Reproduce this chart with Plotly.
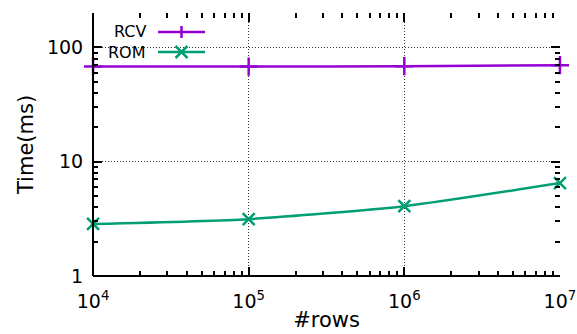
import plotly.graph_objects as go
import math

rows = [1e4, 1e5, 1e6, 1e7]
rcv_ms = [68.2, 68.0, 68.6, 70.0]
rom_ms = [2.85, 3.14, 4.08, 6.5]
series_names = ["RCV", "ROM"]
colors = ["#9400d3", "#009e73"]
x_tickvals = [1e4, 1e5, 1e6, 1e7]
x_ticktext = ["10<sup>4</sup>", "10<sup>5</sup>", "10<sup>6</sup>", "10<sup>7</sup>"]
y_tickvals = [1, 10, 100]
y_ticktext = ["1", "10", "100"]

FONT = "DejaVu Sans"
YMAX = math.log10(200)
XR = [4 - 0.0005, 7 + 0.0005]
YR = [0 - 0.0005, YMAX + 0.0005]

fig = go.Figure()
fig.add_trace(go.Scatter(
    x=rows, y=rcv_ms, name=series_names[0], mode="lines+markers",
    line=dict(color=colors[0], width=2.5, shape="spline", smoothing=0.6),
    marker=dict(symbol="cross-thin", size=13, line=dict(color=colors[0], width=2.5)),
    showlegend=False, cliponaxis=False,
))
fig.add_trace(go.Scatter(
    x=rows, y=rom_ms, name=series_names[1], mode="lines+markers",
    line=dict(color=colors[1], width=2.5, shape="spline", smoothing=0.6),
    marker=dict(symbol="x-thin", size=12, line=dict(color=colors[1], width=2.5)),
    showlegend=False, cliponaxis=False,
))

tickfont = dict(family=FONT, size=19, color="black")
grid = dict(showgrid=True, gridcolor="#333", griddash="1px,2px", gridwidth=1)
minor = dict(ticks="inside", ticklen=5, tickwidth=2, tickcolor="black", dtick="D1", showgrid=False)
TRANSPARENT = "rgba(0,0,0,0)"

fig.update_layout(
    width=577, height=334,
    margin=dict(l=93, r=17, t=13, b=58),
    paper_bgcolor="white", plot_bgcolor="white",
    font=dict(family=FONT, color="black"),
    xaxis=dict(
        type="log", range=XR, tickmode="array", tickvals=x_tickvals, ticktext=x_ticktext,
        showline=True, linecolor=TRANSPARENT, linewidth=2, mirror="ticks", automargin=False,
        ticks="inside", ticklen=9, tickwidth=2, tickcolor="black",
        tickfont=tickfont, ticklabelstandoff=7,
        zeroline=False, minor=minor, **grid,
        title=dict(text="#rows", font=dict(family=FONT, size=21, color="black"), standoff=2),
    ),
    yaxis=dict(
        type="log", range=YR, tickmode="array", tickvals=y_tickvals, ticktext=y_ticktext,
        showline=True, linecolor=TRANSPARENT, linewidth=2, mirror="ticks", automargin=False,
        ticks="inside", ticklen=9, tickwidth=2, tickcolor="black",
        tickfont=tickfont, ticklabelstandoff=4,
        zeroline=False, minor=minor, **grid,
        title=dict(text="Time(ms)", font=dict(family=FONT, size=21, color="black"), standoff=8),
    ),
)

# left and bottom border (gnuplot "set border 3")
fig.add_shape(type="line", xref="paper", yref="paper", x0=0, x1=0, y0=0, y1=1,
              line=dict(color="black", width=2), layer="above")
fig.add_shape(type="line", xref="paper", yref="paper", x0=0, x1=1, y0=0, y1=0,
              line=dict(color="black", width=2), layer="above")

# gnuplot-style key: opaque box, text left of the sample
PW, PH = 467, 263
fig.add_shape(type="rect", xref="paper", yref="paper", x0=12 / PW, x1=120 / PW, y0=1 - 57 / PH, y1=1 - 12 / PH,
              fillcolor="white", line=dict(width=0), layer="between")
key_y = [1 - 19 / PH, 1 - 39 / PH]
sample_x0, sample_x1 = 65 / PW, 112 / PW
for i, (name, col) in enumerate(zip(series_names, colors)):
    y = key_y[i]
    fig.add_annotation(xref="paper", yref="paper", x=55 / PW, y=y, text=name, showarrow=False,
                       xanchor="right", yanchor="middle", font=dict(family=FONT, size=16, color="black"))
    fig.add_shape(type="line", xref="paper", yref="paper", x0=sample_x0, x1=sample_x1, y0=y, y1=y,
                  line=dict(color=col, width=2.5))
    xm = (sample_x0 + sample_x1) / 2
    dx = 6 / PW
    dy = 6 / PH
    if i == 0:
        fig.add_shape(type="line", xref="paper", yref="paper", x0=xm, x1=xm, y0=y - dy, y1=y + dy,
                      line=dict(color=col, width=2.5))
    else:
        fig.add_shape(type="line", xref="paper", yref="paper", x0=xm - dx, x1=xm + dx, y0=y - dy, y1=y + dy,
                      line=dict(color=col, width=2.5))
        fig.add_shape(type="line", xref="paper", yref="paper", x0=xm - dx, x1=xm + dx, y0=y + dy, y1=y - dy,
                      line=dict(color=col, width=2.5))

fig.write_html("out.html", config={"displayModeBar": False},
               post_script="document.body.style.margin='0';document.body.style.padding='0';")
